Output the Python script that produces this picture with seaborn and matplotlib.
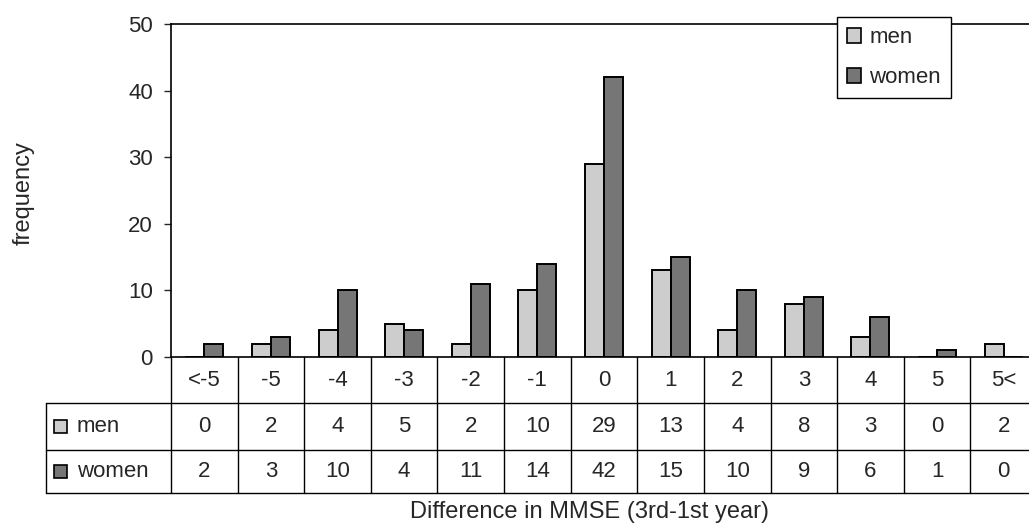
import matplotlib
matplotlib.use("Agg")
import matplotlib.pyplot as plt
import seaborn as sns
import pandas as pd
from matplotlib.patches import Rectangle
from matplotlib.lines import Line2D

categories = ["<-5", "-5", "-4", "-3", "-2", "-1", "0", "1", "2", "3", "4", "5", "5<"]
men = [0, 2, 4, 5, 2, 10, 29, 13, 4, 8, 3, 0, 2]
women = [2, 3, 10, 4, 11, 14, 42, 15, 10, 9, 6, 1, 0]
series_names = ["men", "women"]
y_ticks = [0, 10, 20, 30, 40, 50]

sns.set_style("white")
plt.rcParams["font.family"] = ["Liberation Sans", "DejaVu Sans"]

W, H = 1029, 528
fig = plt.figure(figsize=(W / 100, H / 100), dpi=100)
L, T, R, B = 171, 24, 1037, 357
ax = fig.add_axes([L / W, 1 - B / H, (R - L) / W, (B - T) / H])

df = pd.DataFrame({
    "cat": categories * 2,
    "value": men + women,
    "sex": ["men"] * len(categories) + ["women"] * len(categories),
})
colors = {"men": "#cdcdcd", "women": "#767676"}
sns.barplot(data=df, x="cat", y="value", hue="sex", order=categories,
            hue_order=series_names, palette=colors, width=0.57,
            edgecolor="black", linewidth=1.4, ax=ax, legend=False)

n = len(categories)
ax.set_xlim(-0.5, n - 0.5)
ax.set_ylim(0, 50)
ax.set_yticks(y_ticks)
ax.set_yticklabels([str(v) for v in y_ticks], fontsize=16)
ax.tick_params(axis="y", direction="out", length=5, width=1, pad=8, left=True)
ax.tick_params(axis="x", bottom=False, labelbottom=False)
ax.set_xlabel("")
ax.set_ylabel("")
for s in ["left", "top", "bottom"]:
    ax.spines[s].set_visible(True)
    ax.spines[s].set_color("black")
    ax.spines[s].set_linewidth(1.2)
ax.spines["right"].set_visible(False)

# legend
handles = [Rectangle((0, 0), 1, 1, facecolor=colors[s], edgecolor="black", linewidth=1.2)
           for s in series_names]
leg = ax.legend(handles, series_names, loc="upper left",
                bbox_to_anchor=(837 / W, 1 - 17 / H), bbox_transform=fig.transFigure,
                fontsize=16, frameon=True, fancybox=False, framealpha=1,
                edgecolor="black", handlelength=0.65, handleheight=0.65,
                handletextpad=0.35, labelspacing=0.85, borderpad=0.45,
                borderaxespad=0)
leg.get_frame().set_linewidth(1.0)

# data table drawn in figure pixel coordinates
def fx(px):
    return px / W

def fy(py):
    return 1 - py / H

colw = (R - L) / n
row_tops = [357, 403, 450, 493]
lw = 1.0
labx = 46
for yy in row_tops[1:]:
    fig.add_artist(Line2D([fx(labx), fx(R)], [fy(yy), fy(yy)], color="black", lw=lw))
fig.add_artist(Line2D([fx(labx), fx(labx)], [fy(403), fy(493)], color="black", lw=lw))
for k in range(n + 1):
    xx = L + k * colw
    fig.add_artist(Line2D([fx(xx), fx(xx)], [fy(357), fy(493)], color="black", lw=lw))

rows = [categories, [str(v) for v in men], [str(v) for v in women]]
for r, vals in enumerate(rows):
    yc = (row_tops[r] + row_tops[r + 1]) / 2
    for k, v in enumerate(vals):
        xc = L + (k + 0.5) * colw
        fig.text(fx(xc), fy(yc), v, ha="center", va="center", fontsize=16)

for i, s in enumerate(series_names):
    yc = (row_tops[i + 1] + row_tops[i + 2]) / 2
    fig.add_artist(Rectangle((fx(54), fy(yc + 6.5)), 13 / W, 13 / H,
                             facecolor=colors[s], edgecolor="black", lw=1.2))
    fig.text(fx(77), fy(yc), s, ha="left", va="center", fontsize=16)

fig.text(fx(590), fy(512), "Difference in MMSE (3rd-1st year)", ha="center",
         va="center", fontsize=17)
fig.text(fx(24), fy(193), "frequency", ha="center", va="center",
         rotation=90, fontsize=17)

fig.savefig("out.png", dpi=100)
